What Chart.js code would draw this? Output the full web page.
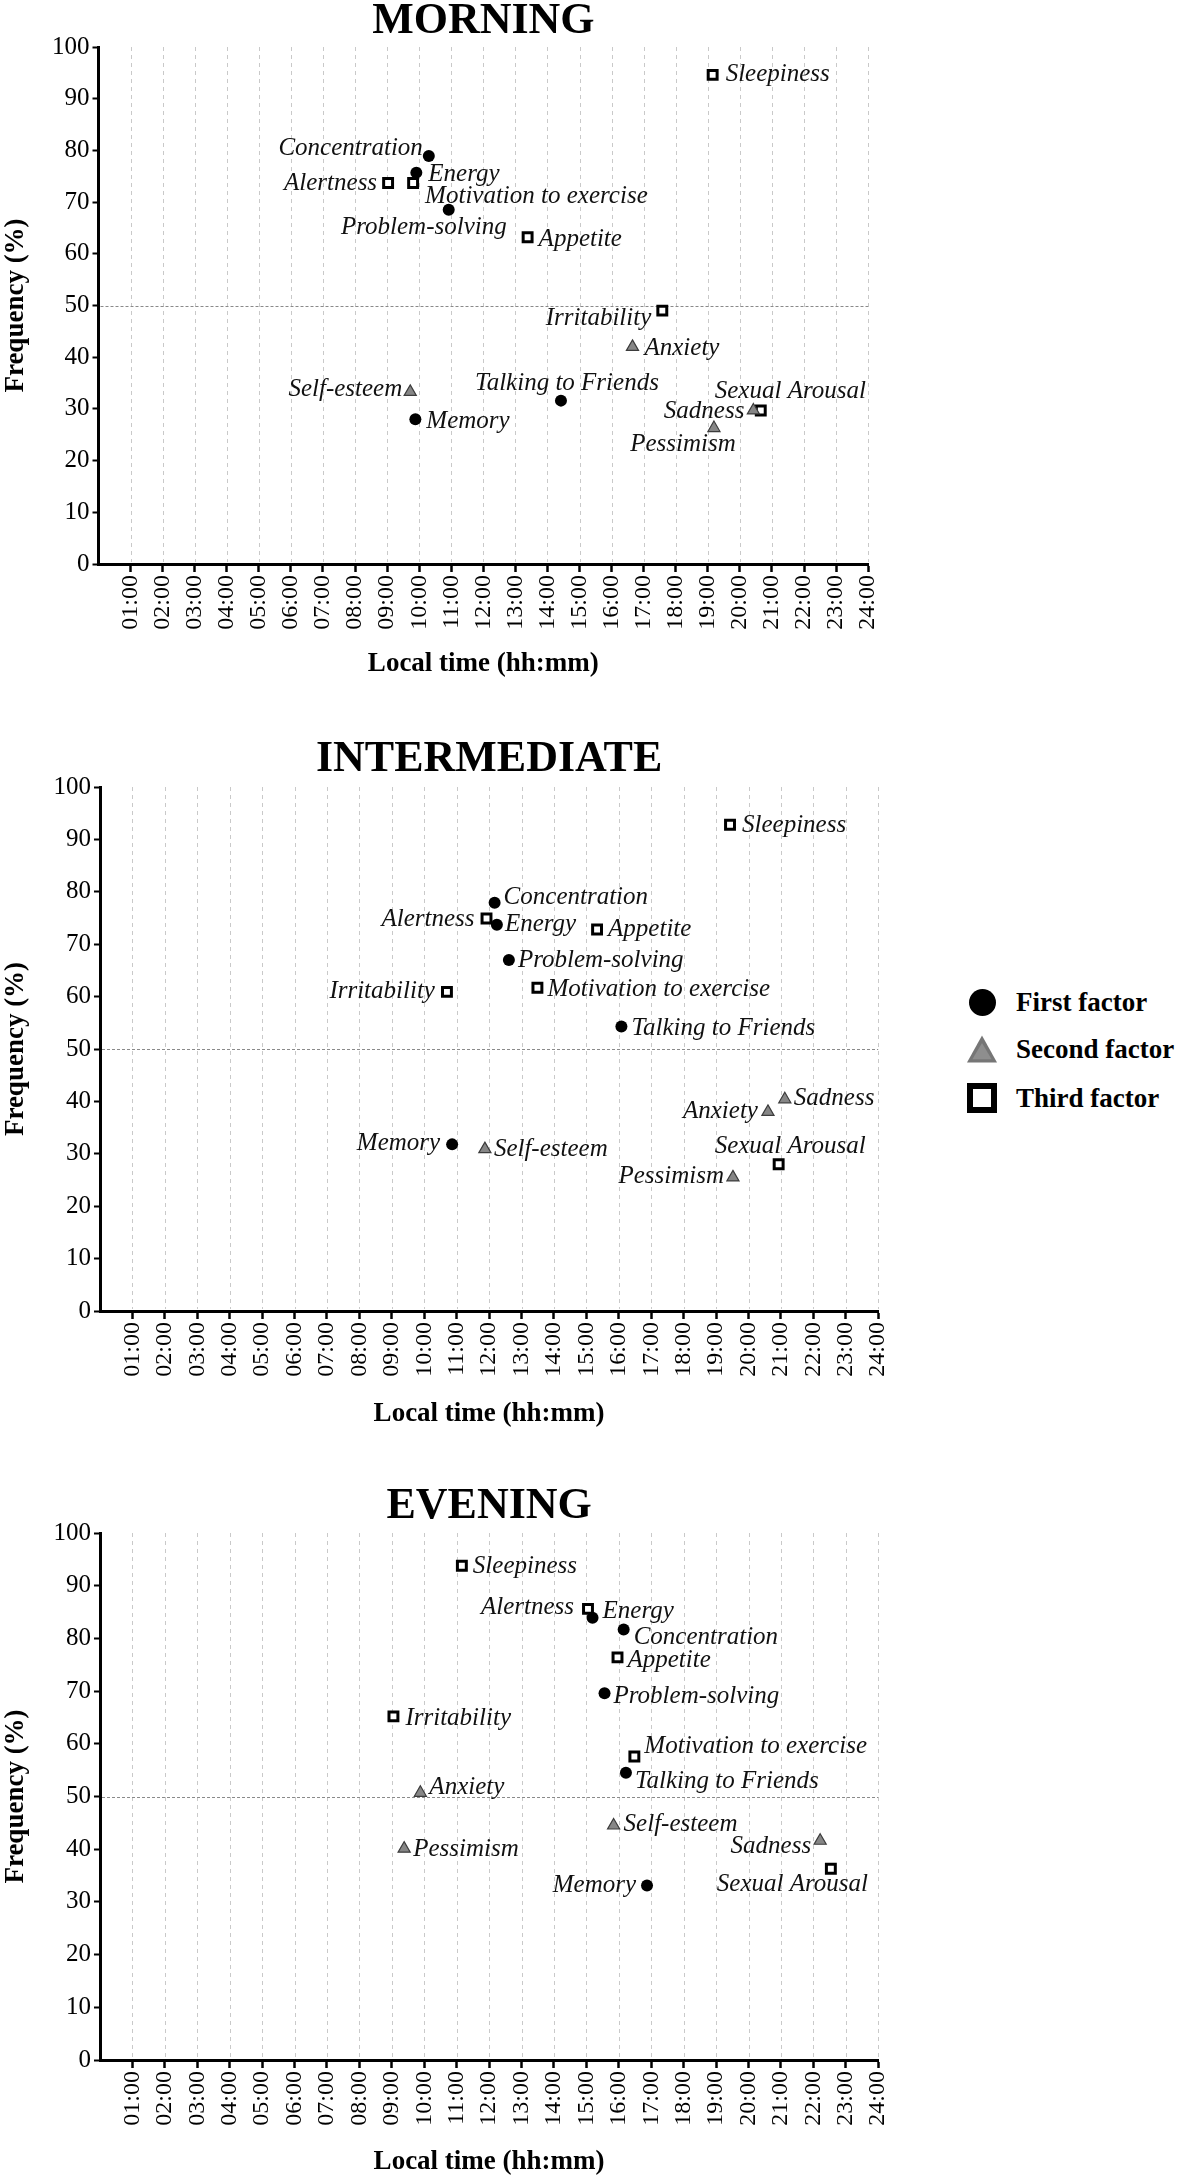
<!DOCTYPE html>
<html>
<head>
<meta charset="utf-8">
<script src="https://cdn.jsdelivr.net/npm/chart.js"></script>
<style>
  html, body { margin: 0; padding: 0; background: #fff; overflow: hidden; }
  body { width: 1181px; height: 2176px; position: relative; }
  canvas { position: absolute; left: 0; }
  .lg { position: absolute; left: 967px; height: 30px; display: flex; align-items: center;
        font: bold 27px 'Liberation Serif', 'Times New Roman', serif; color: #000; }
  .mk { width: 30px; height: 30px; position: relative; margin-right: 19px; box-sizing: border-box; }
  .mk.circle::after { content: ""; position: absolute; left: 1.5px; top: 1.5px; width: 27px; height: 27px; border-radius: 50%; background: #000; }
  .mk.tri { clip-path: polygon(50% 5%, 100% 95%, 0 95%); background: #767676; }
  .mk.tri::after { content: ""; position: absolute; inset: 0; clip-path: polygon(50% 30%, 82% 84%, 18% 84%); background: #8e8e8e; }
  .mk.sq { border: 6px solid #000; background: #fff; }
</style>
</head>
<body>
<canvas id="morning"></canvas>
<canvas id="intermediate"></canvas>
<canvas id="evening"></canvas>

<div class="lg" style="top:987px"><div class="mk circle"></div>First factor</div>
<div class="lg" style="top:1034px"><div class="mk tri"></div>Second factor</div>
<div class="lg" style="top:1083px"><div class="mk sq"></div>Third factor</div>

<script>
const hourTicks = ['01:00', '02:00', '03:00', '04:00', '05:00', '06:00', '07:00', '08:00',
  '09:00', '10:00', '11:00', '12:00', '13:00', '14:00', '15:00', '16:00',
  '17:00', '18:00', '19:00', '20:00', '21:00', '22:00', '23:00', '24:00'];
const halfLine = 50;

const firstItems = ['Concentration', 'Energy', 'Problem-solving', 'Memory', 'Talking to Friends'];
const secondItems = ['Anxiety', 'Self-esteem', 'Sadness', 'Pessimism'];
const thirdItems = ['Sleepiness', 'Alertness', 'Motivation to exercise', 'Appetite', 'Irritability', 'Sexual Arousal'];

// morning
const morningFirstTime = [10.30, 9.91, 10.92, 9.88, 14.42];
const morningFirstFreq = [78.9, 75.7, 68.5, 28.0, 31.6];
const morningSecondTime = [16.65, 9.72, 20.42, 19.19];
const morningSecondFreq = [42.0, 33.3, 29.7, 26.3];
const morningThirdTime = [19.15, 9.03, 9.81, 13.38, 17.58, 20.65];
const morningThirdFreq = [94.6, 73.7, 73.7, 63.2, 49.0, 29.7];

// intermediate
const interFirstTime = [12.17, 12.24, 12.61, 10.86, 16.08];
const interFirstFreq = [77.9, 73.7, 67.0, 31.8, 54.3];
const interSecondTime = [20.60, 11.87, 21.12, 19.52];
const interSecondFreq = [38.0, 30.9, 40.4, 25.5];
const interThirdTime = [19.43, 11.92, 13.49, 15.33, 10.70, 20.93];
const interThirdFreq = [92.8, 74.9, 61.7, 72.8, 60.9, 28.0];

// evening
const eveningFirstTime = [16.15, 15.19, 15.56, 16.87, 16.22];
const eveningFirstFreq = [81.7, 83.9, 69.6, 33.1, 54.5];
const eveningSecondTime = [9.88, 15.84, 22.21, 9.38];
const eveningSecondFreq = [50.7, 44.5, 41.6, 40.1];
const eveningThirdTime = [11.16, 15.05, 16.48, 15.96, 9.05, 22.54];
const eveningThirdFreq = [93.8, 85.6, 57.6, 76.4, 65.2, 36.3];

// label placement next to each marker: [dx, dy, side]
const morningFirstPlace = [[-6, -8, 'l'], [12, 2, 'r'], [58, 18, 'l'], [11, 2, 'r'], [6, -17, 'c']];
const morningSecondPlace = [[12, 2, 'r'], [-8, -2, 'l'], [-9, 1, 'l'], [-31, 16, 'c']];
const morningThirdPlace = [[13, 0, 'r'], [-11, 0, 'l'], [12, 13, 'r'], [11, 2, 'r'], [-11, 8, 'l'], [-46, -19, 'r']];
const interFirstPlace = [[9, -5, 'r'], [8, 0, 'r'], [9, 1, 'r'], [-12, -1, 'l'], [10, 2, 'r']];
const interSecondPlace = [[-10, 0, 'l'], [9, 0, 'r'], [9, -1, 'r'], [-9, -1, 'l']];
const interThirdPlace = [[12, 1, 'r'], [-12, 1, 'l'], [10, 2, 'r'], [11, 0, 'r'], [-12, 0, 'l'], [-64, -18, 'r']];
const eveningFirstPlace = [[10, 8, 'r'], [10, -6, 'r'], [9, 3, 'r'], [-11, 0, 'l'], [9, 9, 'r']];
const eveningSecondPlace = [[9, -5, 'r'], [10, -1, 'r'], [-9, 6, 'l'], [9, 1, 'r']];
const eveningThirdPlace = [[11, 1, 'r'], [-14, -1, 'l'], [10, -10, 'r'], [10, 3, 'r'], [12, 2, 'r'], [-114, 16, 'r']];

const serif = "'Liberation Serif', 'Times New Roman', serif";
Chart.defaults.font.family = serif;
Chart.defaults.color = '#000';

const guideLines = {
  id: 'guideLines',
  beforeDraw(chart) {
    const {ctx, chartArea: a, scales: {x, y}} = chart;
    ctx.save();
    ctx.lineWidth = 1;
    ctx.strokeStyle = '#c9c9c9';
    ctx.setLineDash([4, 4]);
    hourTicks.forEach((_, i) => {
      const px = Math.round(x.getPixelForValue(i + 1)) + 0.5;
      ctx.beginPath();
      ctx.moveTo(px, a.top);
      ctx.lineTo(px, a.bottom - 2);
      ctx.stroke();
    });
    ctx.strokeStyle = '#8a8a8a';
    ctx.setLineDash([3, 2]);
    const py = Math.round(y.getPixelForValue(halfLine)) + 0.5;
    ctx.beginPath();
    ctx.moveTo(a.left + 2, py);
    ctx.lineTo(a.right, py);
    ctx.stroke();
    ctx.restore();
  }
};

const pointLabels = {
  id: 'pointLabels',
  afterDatasetsDraw(chart) {
    const ctx = chart.ctx;
    ctx.save();
    ctx.font = 'italic 25px ' + serif;
    ctx.fillStyle = '#111';
    ctx.textBaseline = 'middle';
    chart.data.datasets.forEach((ds, di) => {
      chart.getDatasetMeta(di).data.forEach((pt, i) => {
        const [dx, dy, side] = ds.place[i];
        ctx.textAlign = side === 'l' ? 'right' : side === 'c' ? 'center' : 'left';
        ctx.fillText(ds.names[i], pt.x + dx, pt.y + dy);
      });
    });
    ctx.restore();
  }
};

const toPoints = (times, freqs) => times.map((t, i) => ({x: t, y: freqs[i]}));

function makeChart(id, c) {
  const canvas = document.getElementById(id);
  canvas.width = c.width;
  canvas.height = c.height;
  canvas.style.top = c.top + 'px';
  canvas.style.width = c.width + 'px';
  canvas.style.height = c.height + 'px';

  return new Chart(canvas, {
    type: 'scatter',
    data: {
      datasets: [
        {
          data: toPoints(c.first[0], c.first[1]), names: firstItems, place: c.first[2],
          pointStyle: 'circle', pointRadius: 6, backgroundColor: '#000', borderColor: '#000', borderWidth: 0
        },
        {
          data: toPoints(c.second[0], c.second[1]), names: secondItems, place: c.second[2],
          pointStyle: 'triangle', pointRadius: 7, backgroundColor: '#868686', borderColor: '#3c3c3c', borderWidth: 1.2
        },
        {
          data: toPoints(c.third[0], c.third[1]), names: thirdItems, place: c.third[2],
          pointStyle: 'rect', pointRadius: 6.3, backgroundColor: '#fff', borderColor: '#000', borderWidth: 3
        }
      ]
    },
    options: {
      responsive: false,
      animation: false,
      events: [],
      layout: {padding: {left: 0, right: c.padRight, top: 0, bottom: 0}},
      plugins: {
        legend: {display: false},
        tooltip: {enabled: false},
        title: {
          display: true, text: c.title, fullSize: false, color: '#000',
          font: {size: 44, weight: 'bold', lineHeight: 1},
          padding: {top: c.titleTop, bottom: c.titlePad}
        }
      },
      scales: {
        x: {
          type: 'linear', min: 0, max: 24,
          afterBuildTicks: s => { s.ticks = hourTicks.map((_, i) => ({value: i + 1})); },
          afterFit: s => { s.height = c.bottomH; },
          ticks: {
            autoSkip: false, maxRotation: 90, minRotation: 90, padding: 3, color: '#000',
            font: {size: 24}, callback: v => hourTicks[v - 1]
          },
          grid: {drawOnChartArea: false, drawTicks: true, tickLength: 8, tickWidth: 2.5, tickColor: '#000'},
          border: {color: '#000', width: 3},
          title: {
            display: true, text: 'Local time (hh:mm)', color: '#000',
            font: {size: 27, weight: 'bold'}, padding: {top: 0, bottom: c.xTitlePad}
          }
        },
        y: {
          min: 0, max: 100,
          afterFit: s => { s.width = c.left; },
          ticks: {stepSize: 10, padding: 3, color: '#000', font: {size: 25}},
          grid: {drawOnChartArea: false, drawTicks: true, tickLength: 6, tickWidth: 2, tickColor: '#000'},
          border: {color: '#000', width: 3},
          title: {
            display: true, text: 'Frequency (%)', color: '#000',
            font: {size: 27, weight: 'bold'}, padding: 0
          }
        }
      }
    },
    plugins: [guideLines, pointLabels]
  });
}

makeChart('morning', {
  title: 'MORNING', top: 0, width: 900, height: 684, left: 98.5, padRight: 21.5,
  titleTop: 0, titlePad: 3, bottomH: 120, xTitlePad: 4,
  first: [morningFirstTime, morningFirstFreq, morningFirstPlace],
  second: [morningSecondTime, morningSecondFreq, morningSecondPlace],
  third: [morningThirdTime, morningThirdFreq, morningThirdPlace]
});

makeChart('intermediate', {
  title: 'INTERMEDIATE', top: 734, width: 910, height: 697, left: 100, padRight: 20,
  titleTop: 4, titlePad: 5, bottomH: 120, xTitlePad: 1,
  first: [interFirstTime, interFirstFreq, interFirstPlace],
  second: [interSecondTime, interSecondFreq, interSecondPlace],
  third: [interThirdTime, interThirdFreq, interThirdPlace]
});

makeChart('evening', {
  title: 'EVENING', top: 1481, width: 910, height: 699, left: 100, padRight: 20,
  titleTop: 4, titlePad: 4, bottomH: 120, xTitlePad: 2,
  first: [eveningFirstTime, eveningFirstFreq, eveningFirstPlace],
  second: [eveningSecondTime, eveningSecondFreq, eveningSecondPlace],
  third: [eveningThirdTime, eveningThirdFreq, eveningThirdPlace]
});
</script>
</body>
</html>
